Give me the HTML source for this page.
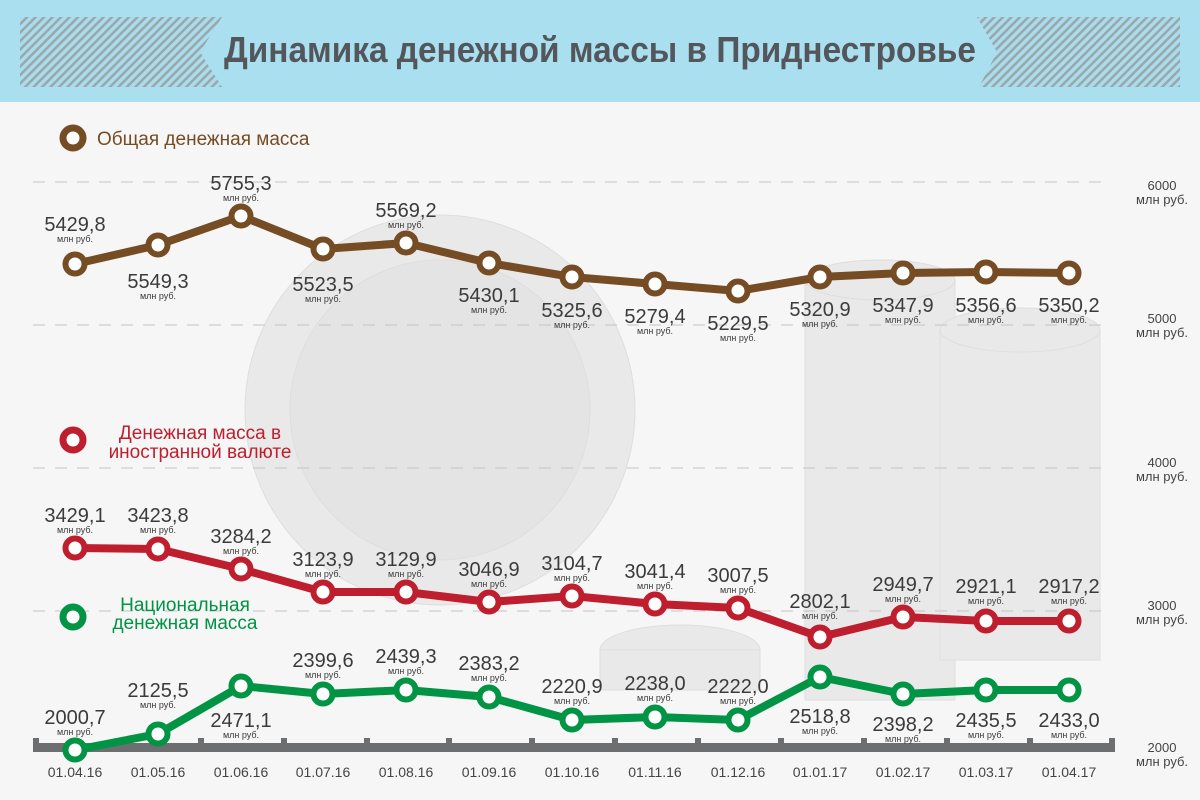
<!DOCTYPE html>
<html><head><meta charset="utf-8"><style>
body{margin:0;width:1200px;height:800px;overflow:hidden;background:#f6f6f6}
svg{display:block}
text{font-family:"Liberation Sans","DejaVu Sans",sans-serif}
.n{font-size:20px;fill:#3b3b3b;text-anchor:middle}
.s{font-size:9px;fill:#3b3b3b;text-anchor:middle}
.ax{font-size:14px;fill:#444;text-anchor:middle}
.ry{font-size:13px;fill:#444;text-anchor:middle}
</style></head><body>
<svg width="1200" height="800" viewBox="0 0 1200 800">
<defs>
<pattern id="h" width="6" height="6" patternUnits="userSpaceOnUse" patternTransform="rotate(45)">
<rect width="6" height="6" fill="#a9dcec"/><rect width="2.5" height="6" fill="#9aa7ab"/></pattern>
</defs>
<rect width="1200" height="102" fill="#aadff0"/>
<polygon points="20,17 222,17 200,52 222,87 20,87" fill="url(#h)"/>
<polygon points="977,17 1180,17 1180,87 979,87 997,52" fill="url(#h)"/>
<text x="600" y="62" text-anchor="middle" textLength="752" lengthAdjust="spacingAndGlyphs" style="font-size:36px;font-weight:bold;fill:#53575b">Динамика денежной массы в Приднестровье</text>

<!-- background coins -->
<g fill="#e9e9e9" stroke="#dedede">
<circle cx="440" cy="410" r="195"/>
<circle cx="440" cy="410" r="150" fill="#e4e4e4"/>
<ellipse cx="680" cy="650" rx="80" ry="25"/>
<rect x="600" y="650" width="160" height="40"/>
<rect x="805" y="280" width="150" height="420"/>
<ellipse cx="880" cy="280" rx="75" ry="20"/>
<rect x="940" y="330" width="160" height="330"/>
<ellipse cx="1020" cy="330" rx="80" ry="22"/>
</g>

<!-- grid -->
<g stroke="#c4c4c4" stroke-dasharray="12,10" stroke-width="1">
<line x1="33" y1="182" x2="1103" y2="182"/>
<line x1="33" y1="325" x2="1103" y2="325"/>
<line x1="33" y1="468" x2="1103" y2="468"/>
<line x1="33" y1="611" x2="1103" y2="611"/>
</g>
<g>
<text class="ry" x="1162" y="190">6000</text><text class="ry" x="1162" y="204">млн руб.</text>
<text class="ry" x="1162" y="323">5000</text><text class="ry" x="1162" y="337">млн руб.</text>
<text class="ry" x="1162" y="467">4000</text><text class="ry" x="1162" y="481">млн руб.</text>
<text class="ry" x="1162" y="610">3000</text><text class="ry" x="1162" y="624">млн руб.</text>
<text class="ry" x="1162" y="752">2000</text><text class="ry" x="1162" y="766">млн руб.</text>
</g>

<!-- axis -->
<g fill="#6d6e70">
<rect x="33" y="743" width="1082" height="9"/>
<rect x="33" y="738" width="6" height="14"/><rect x="115" y="738" width="6" height="14"/><rect x="198" y="738" width="6" height="14"/><rect x="281" y="738" width="6" height="14"/><rect x="364" y="738" width="6" height="14"/><rect x="446" y="738" width="6" height="14"/><rect x="529" y="738" width="6" height="14"/><rect x="612" y="738" width="6" height="14"/><rect x="695" y="738" width="6" height="14"/><rect x="778" y="738" width="6" height="14"/><rect x="861" y="738" width="6" height="14"/><rect x="944" y="738" width="6" height="14"/><rect x="1027" y="738" width="6" height="14"/><rect x="1109" y="738" width="6" height="14"/>
</g>
<g>
<text class="ax" x="75" y="777">01.04.16</text><text class="ax" x="158" y="777">01.05.16</text><text class="ax" x="241" y="777">01.06.16</text><text class="ax" x="323" y="777">01.07.16</text><text class="ax" x="406" y="777">01.08.16</text><text class="ax" x="489" y="777">01.09.16</text><text class="ax" x="572" y="777">01.10.16</text><text class="ax" x="655" y="777">01.11.16</text><text class="ax" x="738" y="777">01.12.16</text><text class="ax" x="820" y="777">01.01.17</text><text class="ax" x="903" y="777">01.02.17</text><text class="ax" x="986" y="777">01.03.17</text><text class="ax" x="1069" y="777">01.04.17</text>
</g>

<!-- legends -->
<circle cx="73" cy="138" r="10" fill="#fff" stroke="#754c24" stroke-width="7"/>
<text x="97" y="145" style="font-size:19px;fill:#754c24">Общая денежная масса</text>
<circle cx="73" cy="440" r="10" fill="#fff" stroke="#be1e2d" stroke-width="7"/>
<text x="200" y="439" text-anchor="middle" style="font-size:19px;fill:#be1e2d">Денежная масса в</text>
<text x="200" y="458" text-anchor="middle" style="font-size:19px;fill:#be1e2d">иностранной валюте</text>
<circle cx="73" cy="617" r="10" fill="#fff" stroke="#009444" stroke-width="7"/>
<text x="185" y="611" text-anchor="middle" style="font-size:19px;fill:#009444">Национальная</text>
<text x="185" y="629" text-anchor="middle" style="font-size:19px;fill:#009444">денежная масса</text>

<!-- lines -->
<polyline fill="none" stroke="#754c24" stroke-width="8" stroke-linejoin="round" points="75,264 158,245 241,216 323,249 406,243 489,263 572,277 655,284 738,291 820,277 903,273 986,272 1069,273"/>
<polyline fill="none" stroke="#be1e2d" stroke-width="8" stroke-linejoin="round" points="75,548 158,549 241,569 323,592 406,592 489,602 572,596 655,604 738,608 820,637 903,617 986,621 1069,621"/>
<polyline fill="none" stroke="#009444" stroke-width="8" stroke-linejoin="round" points="75,750 158,734 241,686 323,694 406,690 489,697 572,720 655,717 738,720 820,677 903,694 986,690 1069,690"/>

<g fill="#fff" stroke="#754c24" stroke-width="6">
<circle cx="75" cy="264" r="9.5"/><circle cx="158" cy="245" r="9.5"/><circle cx="241" cy="216" r="9.5"/><circle cx="323" cy="249" r="9.5"/><circle cx="406" cy="243" r="9.5"/><circle cx="489" cy="263" r="9.5"/><circle cx="572" cy="277" r="9.5"/><circle cx="655" cy="284" r="9.5"/><circle cx="738" cy="291" r="9.5"/><circle cx="820" cy="277" r="9.5"/><circle cx="903" cy="273" r="9.5"/><circle cx="986" cy="272" r="9.5"/><circle cx="1069" cy="273" r="9.5"/>
</g>
<g fill="#fff" stroke="#be1e2d" stroke-width="6">
<circle cx="75" cy="548" r="9.5"/><circle cx="158" cy="549" r="9.5"/><circle cx="241" cy="569" r="9.5"/><circle cx="323" cy="592" r="9.5"/><circle cx="406" cy="592" r="9.5"/><circle cx="489" cy="602" r="9.5"/><circle cx="572" cy="596" r="9.5"/><circle cx="655" cy="604" r="9.5"/><circle cx="738" cy="608" r="9.5"/><circle cx="820" cy="637" r="9.5"/><circle cx="903" cy="617" r="9.5"/><circle cx="986" cy="621" r="9.5"/><circle cx="1069" cy="621" r="9.5"/>
</g>
<g fill="#fff" stroke="#009444" stroke-width="6">
<circle cx="75" cy="750" r="9.5"/><circle cx="158" cy="734" r="9.5"/><circle cx="241" cy="686" r="9.5"/><circle cx="323" cy="694" r="9.5"/><circle cx="406" cy="690" r="9.5"/><circle cx="489" cy="697" r="9.5"/><circle cx="572" cy="720" r="9.5"/><circle cx="655" cy="717" r="9.5"/><circle cx="738" cy="720" r="9.5"/><circle cx="820" cy="677" r="9.5"/><circle cx="903" cy="694" r="9.5"/><circle cx="986" cy="690" r="9.5"/><circle cx="1069" cy="690" r="9.5"/>
</g>

<!-- brown labels -->
<g>
<text class="n" x="75" y="231">5429,8</text><text class="s" x="75" y="242">млн руб.</text>
<text class="n" x="158" y="288">5549,3</text><text class="s" x="158" y="299">млн руб.</text>
<text class="n" x="241" y="190">5755,3</text><text class="s" x="241" y="201">млн руб.</text>
<text class="n" x="323" y="291">5523,5</text><text class="s" x="323" y="302">млн руб.</text>
<text class="n" x="406" y="217">5569,2</text><text class="s" x="406" y="228">млн руб.</text>
<text class="n" x="489" y="302">5430,1</text><text class="s" x="489" y="313">млн руб.</text>
<text class="n" x="572" y="317">5325,6</text><text class="s" x="572" y="328">млн руб.</text>
<text class="n" x="655" y="323">5279,4</text><text class="s" x="655" y="334">млн руб.</text>
<text class="n" x="738" y="330">5229,5</text><text class="s" x="738" y="341">млн руб.</text>
<text class="n" x="820" y="316">5320,9</text><text class="s" x="820" y="327">млн руб.</text>
<text class="n" x="903" y="312">5347,9</text><text class="s" x="903" y="323">млн руб.</text>
<text class="n" x="986" y="312">5356,6</text><text class="s" x="986" y="323">млн руб.</text>
<text class="n" x="1069" y="312">5350,2</text><text class="s" x="1069" y="323">млн руб.</text>
</g>
<!-- red labels -->
<g>
<text class="n" x="75" y="522">3429,1</text><text class="s" x="75" y="533">млн руб.</text>
<text class="n" x="158" y="522">3423,8</text><text class="s" x="158" y="533">млн руб.</text>
<text class="n" x="241" y="543">3284,2</text><text class="s" x="241" y="554">млн руб.</text>
<text class="n" x="323" y="566">3123,9</text><text class="s" x="323" y="577">млн руб.</text>
<text class="n" x="406" y="566">3129,9</text><text class="s" x="406" y="577">млн руб.</text>
<text class="n" x="489" y="576">3046,9</text><text class="s" x="489" y="587">млн руб.</text>
<text class="n" x="572" y="570">3104,7</text><text class="s" x="572" y="581">млн руб.</text>
<text class="n" x="655" y="578">3041,4</text><text class="s" x="655" y="589">млн руб.</text>
<text class="n" x="738" y="582">3007,5</text><text class="s" x="738" y="593">млн руб.</text>
<text class="n" x="820" y="608">2802,1</text><text class="s" x="820" y="619">млн руб.</text>
<text class="n" x="903" y="591">2949,7</text><text class="s" x="903" y="602">млн руб.</text>
<text class="n" x="986" y="593">2921,1</text><text class="s" x="986" y="604">млн руб.</text>
<text class="n" x="1069" y="593">2917,2</text><text class="s" x="1069" y="604">млн руб.</text>
</g>
<!-- green labels -->
<g>
<text class="n" x="75" y="724">2000,7</text><text class="s" x="75" y="735">млн руб.</text>
<text class="n" x="158" y="697">2125,5</text><text class="s" x="158" y="708">млн руб.</text>
<text class="n" x="241" y="727">2471,1</text><text class="s" x="241" y="738">млн руб.</text>
<text class="n" x="323" y="667">2399,6</text><text class="s" x="323" y="678">млн руб.</text>
<text class="n" x="406" y="663">2439,3</text><text class="s" x="406" y="674">млн руб.</text>
<text class="n" x="489" y="670">2383,2</text><text class="s" x="489" y="681">млн руб.</text>
<text class="n" x="572" y="693">2220,9</text><text class="s" x="572" y="704">млн руб.</text>
<text class="n" x="655" y="690">2238,0</text><text class="s" x="655" y="701">млн руб.</text>
<text class="n" x="738" y="693">2222,0</text><text class="s" x="738" y="704">млн руб.</text>
<text class="n" x="820" y="723">2518,8</text><text class="s" x="820" y="734">млн руб.</text>
<text class="n" x="903" y="731">2398,2</text><text class="s" x="903" y="742">млн руб.</text>
<text class="n" x="986" y="727">2435,5</text><text class="s" x="986" y="738">млн руб.</text>
<text class="n" x="1069" y="727">2433,0</text><text class="s" x="1069" y="738">млн руб.</text>
</g>
</svg>
</body></html>
